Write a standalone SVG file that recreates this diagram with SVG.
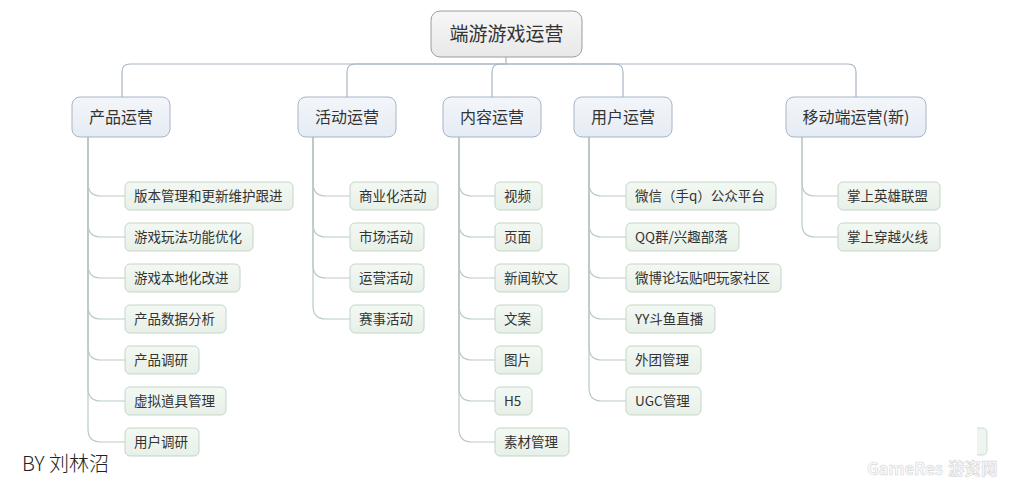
<svg xmlns="http://www.w3.org/2000/svg" width="1024" height="485" viewBox="0 0 1024 485">
<defs>
<linearGradient id="gRoot" x1="0" y1="0" x2="0" y2="1"><stop offset="0" stop-color="#f7f7f7"/><stop offset="1" stop-color="#e8e8e8"/></linearGradient>
<linearGradient id="gL1" x1="0" y1="0" x2="0" y2="1"><stop offset="0" stop-color="#f3f6fa"/><stop offset="1" stop-color="#e6ecf4"/></linearGradient>
<linearGradient id="gLeaf" x1="0" y1="0" x2="0" y2="1"><stop offset="0" stop-color="#f3f8f3"/><stop offset="1" stop-color="#e7f0e8"/></linearGradient>
</defs>
<style>
text{font-family:"Noto Sans CJK SC","Noto Sans",sans-serif;fill:#333}
.root rect{fill:url(#gRoot);stroke:#9c9c9c;stroke-width:1}
.root text{font-size:19px;text-anchor:middle}
.l1 rect{fill:url(#gL1);stroke:#a7b4c6;stroke-width:1}
.l1 text{font-size:16px;text-anchor:middle}
.leaf rect{fill:url(#gLeaf);stroke:#c3d6c7;stroke-width:1}
.leaf text{font-size:13.5px}
.c1 path{fill:none;stroke:#a9b5c1;stroke-width:1.2}
.c2 path{fill:none;stroke:#b9cbc2;stroke-width:1.2}
</style>
<rect width="1024" height="485" fill="#ffffff"/>

<g id="connectors">
<g class="c1">
<path d="M506 57V64H130Q122 64 122 72V97"/>
<path d="M506 64H355Q347 64 347 72V97"/>
<path d="M506 64H500Q492 64 492 72V97"/>
<path d="M506 64H615Q623 64 623 72V97"/>
<path d="M506 64H848Q856 64 856 72V97"/>
</g>
<g class="c2">
<path d="M88 137V183Q88 196 101 196H125"/>
<path d="M88 137V224Q88 237 101 237H125"/>
<path d="M88 137V265Q88 278 101 278H125"/>
<path d="M88 137V306Q88 319 101 319H125"/>
<path d="M88 137V347Q88 360 101 360H125"/>
<path d="M88 137V388Q88 401 101 401H125"/>
<path d="M88 137V429Q88 442 101 442H125"/>

<path d="M313 137V183Q313 196 326 196H350"/>
<path d="M313 137V224Q313 237 326 237H350"/>
<path d="M313 137V265Q313 278 326 278H350"/>
<path d="M313 137V306Q313 319 326 319H350"/>

<path d="M459 137V183Q459 196 472 196H495"/>
<path d="M459 137V224Q459 237 472 237H495"/>
<path d="M459 137V265Q459 278 472 278H495"/>
<path d="M459 137V306Q459 319 472 319H495"/>
<path d="M459 137V347Q459 360 472 360H495"/>
<path d="M459 137V388Q459 401 472 401H495"/>
<path d="M459 137V429Q459 442 472 442H495"/>

<path d="M589 137V183Q589 196 602 196H626"/>
<path d="M589 137V224Q589 237 602 237H626"/>
<path d="M589 137V265Q589 278 602 278H626"/>
<path d="M589 137V306Q589 319 602 319H626"/>
<path d="M589 137V347Q589 360 602 360H626"/>
<path d="M589 137V388Q589 401 602 401H626"/>

<path d="M802 137V183Q802 196 815 196H838"/>
<path d="M802 137V224Q802 237 815 237H838"/>
</g>
</g>

<g id="root" class="root"><rect x="431" y="11" width="151" height="46" rx="9"/><text x="506.5" y="41">端游游戏运营</text></g>

<g id="n-product" class="l1"><rect x="72" y="97" width="98" height="40" rx="8"/><text x="121" y="123">产品运营</text></g>
<g id="n-activity" class="l1"><rect x="298" y="97" width="98" height="40" rx="8"/><text x="347" y="123">活动运营</text></g>
<g id="n-content" class="l1"><rect x="443" y="97" width="98" height="40" rx="8"/><text x="492" y="123">内容运营</text></g>
<g id="n-user" class="l1"><rect x="574" y="97" width="98" height="40" rx="8"/><text x="623" y="123">用户运营</text></g>
<g id="n-mobile" class="l1"><rect x="786" y="97" width="140" height="40" rx="8"/><text x="856" y="123">移动端运营(新)</text></g>

<g id="p1" class="leaf"><rect x="125" y="182" width="168" height="28" rx="5"/><text x="134" y="201">版本管理和更新维护跟进</text></g>
<g id="p2" class="leaf"><rect x="125" y="223" width="128" height="28" rx="5"/><text x="134" y="242">游戏玩法功能优化</text></g>
<g id="p3" class="leaf"><rect x="125" y="264" width="115" height="28" rx="5"/><text x="134" y="283">游戏本地化改进</text></g>
<g id="p4" class="leaf"><rect x="125" y="305" width="101" height="28" rx="5"/><text x="134" y="324">产品数据分析</text></g>
<g id="p5" class="leaf"><rect x="125" y="346" width="74" height="28" rx="5"/><text x="134" y="365">产品调研</text></g>
<g id="p6" class="leaf"><rect x="125" y="387" width="101" height="28" rx="5"/><text x="134" y="406">虚拟道具管理</text></g>
<g id="p7" class="leaf"><rect x="125" y="428" width="74" height="28" rx="5"/><text x="134" y="447">用户调研</text></g>

<g id="a1" class="leaf"><rect x="350" y="182" width="88" height="28" rx="5"/><text x="359" y="201">商业化活动</text></g>
<g id="a2" class="leaf"><rect x="350" y="223" width="74" height="28" rx="5"/><text x="359" y="242">市场活动</text></g>
<g id="a3" class="leaf"><rect x="350" y="264" width="74" height="28" rx="5"/><text x="359" y="283">运营活动</text></g>
<g id="a4" class="leaf"><rect x="350" y="305" width="74" height="28" rx="5"/><text x="359" y="324">赛事活动</text></g>

<g id="c1" class="leaf"><rect x="495" y="182" width="47" height="28" rx="5"/><text x="504" y="201">视频</text></g>
<g id="c2" class="leaf"><rect x="495" y="223" width="47" height="28" rx="5"/><text x="504" y="242">页面</text></g>
<g id="c3" class="leaf"><rect x="495" y="264" width="74" height="28" rx="5"/><text x="504" y="283">新闻软文</text></g>
<g id="c4" class="leaf"><rect x="495" y="305" width="47" height="28" rx="5"/><text x="504" y="324">文案</text></g>
<g id="c5" class="leaf"><rect x="495" y="346" width="47" height="28" rx="5"/><text x="504" y="365">图片</text></g>
<g id="c6" class="leaf"><rect x="495" y="387" width="37" height="28" rx="5"/><text x="504" y="406">H5</text></g>
<g id="c7" class="leaf"><rect x="495" y="428" width="74" height="28" rx="5"/><text x="504" y="447">素材管理</text></g>

<g id="u1" class="leaf"><rect x="626" y="182" width="150" height="28" rx="5"/><text x="635" y="201">微信（手q）公众平台</text></g>
<g id="u2" class="leaf"><rect x="626" y="223" width="113" height="28" rx="5"/><text x="635" y="242">QQ群/兴趣部落</text></g>
<g id="u3" class="leaf"><rect x="626" y="264" width="155" height="28" rx="5"/><text x="635" y="283">微博论坛贴吧玩家社区</text></g>
<g id="u4" class="leaf"><rect x="626" y="305" width="89" height="28" rx="5"/><text x="635" y="324">YY斗鱼直播</text></g>
<g id="u5" class="leaf"><rect x="626" y="346" width="75" height="28" rx="5"/><text x="635" y="365">外团管理</text></g>
<g id="u6" class="leaf"><rect x="626" y="387" width="75" height="28" rx="5"/><text x="635" y="406">UGC管理</text></g>

<g id="m1" class="leaf"><rect x="838" y="182" width="102" height="28" rx="5"/><text x="847" y="201">掌上英雄联盟</text></g>
<g id="m2" class="leaf"><rect x="838" y="223" width="102" height="28" rx="5"/><text x="847" y="242">掌上穿越火线</text></g>

<path d="M977 428H982Q987 428 987 433V450Q987 455 982 455H977" fill="#edf5f0" stroke="#c9ddd0" stroke-width="1"/>

<text x="22" y="471" style="font-size:20px;fill:#222;font-weight:300">BY 刘林沼</text>
<text x="867" y="475" style="font-size:16.5px;font-weight:bold;fill:#fbfbfb;stroke:#d6d6d6;stroke-width:0.6">GameRes<tspan dx="5">游资网</tspan></text>
</svg>
